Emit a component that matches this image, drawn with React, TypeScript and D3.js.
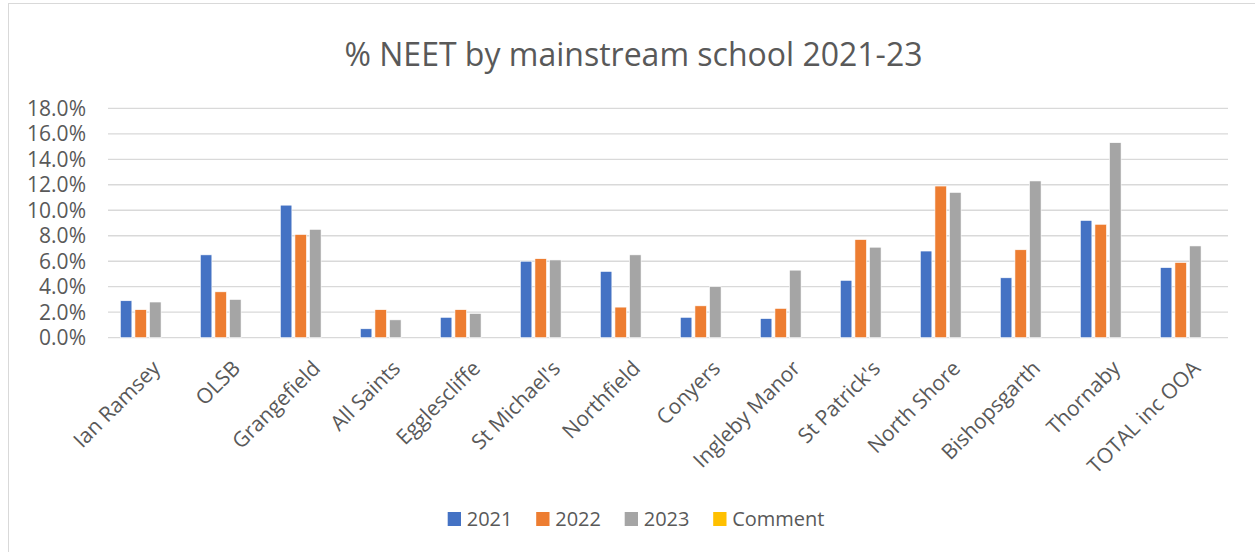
import React from "react";
import { scaleBand, scaleLinear } from "d3";

const schools = [
  "Ian Ramsey",
  "OLSB",
  "Grangefield",
  "All Saints",
  "Egglescliffe",
  "St Michael's",
  "Northfield",
  "Conyers",
  "Ingleby Manor",
  "St Patrick's",
  "North Shore",
  "Bishopsgarth",
  "Thornaby",
  "TOTAL inc OOA",
];

const series = ["2021", "2022", "2023", "Comment"];
const colors = ["#4472C4", "#ED7D31", "#A5A5A5", "#FFC000"];

const neet2021 = [2.9, 6.5, 10.4, 0.7, 1.6, 6.0, 5.2, 1.6, 1.5, 4.5, 6.8, 4.7, 9.2, 5.5];
const neet2022 = [2.2, 3.6, 8.1, 2.2, 2.2, 6.2, 2.4, 2.5, 2.3, 7.7, 11.9, 6.9, 8.9, 5.9];
const neet2023 = [2.8, 3.0, 8.5, 1.4, 1.9, 6.1, 6.5, 4.0, 5.3, 7.1, 11.4, 12.3, 15.3, 7.2];
const comment = [0, 0, 0, 0, 0, 0, 0, 0, 0, 0, 0, 0, 0, 0];

const values = [neet2021, neet2022, neet2023, comment];
const yTicks = [0, 2, 4, 6, 8, 10, 12, 14, 16, 18];

const W = 1255;
const H = 552;
const plot = { left: 108, right: 1228, top: 108.3, bottom: 337.7 };
const textColor = "#595959";
const font = "'Open Sans', sans-serif";

export default function App() {
  const x = scaleBand<string>()
    .domain(schools)
    .range([plot.left, plot.right])
    .padding(0);
  const inner = scaleBand<string>()
    .domain(series)
    .range([0, x.bandwidth()])
    .paddingInner(0.21)
    .paddingOuter(0.845);
  const y = scaleLinear().domain([0, 18]).range([plot.bottom, plot.top]);

  const legendX = 447.7;
  const legendStep = 88.5;
  const legendY = 519;

  return (
    <svg
      width={W}
      height={H}
      style={{ position: "absolute", left: 0, top: 0, display: "block" }}
      fontFamily={font}
    >
      <rect x={0} y={0} width={W} height={H} fill="#fff" />
      <rect
        x={8.5}
        y={3.5}
        width={W}
        height={H}
        fill="none"
        stroke="#d9d9d9"
        strokeWidth={1}
      />

      <text
        x={633.5}
        y={66}
        textAnchor="middle"
        fontSize={32}
        fill={textColor}
      >
        % NEET by mainstream school 2021-23
      </text>

      {yTicks.map((t) => (
        <g key={t}>
          <line
            x1={plot.left}
            x2={plot.right}
            y1={y(t)}
            y2={y(t)}
            stroke="#d9d9d9"
            strokeWidth={1.3}
          />
          <text
            x={86}
            y={y(t)}
            dy="0.35em"
            textAnchor="end"
            fontSize={21}
            fill={textColor}
          >
            {t.toFixed(1)}%
          </text>
        </g>
      ))}

      {schools.map((s, i) => (
        <g key={s} transform={`translate(${x(s)},0)`}>
          {series.map((ser, j) => {
            const v = values[j][i];
            if (!v) return null;
            return (
              <rect
                key={ser}
                x={inner(ser)}
                y={y(v)}
                width={inner.bandwidth()}
                height={y(0) - y(v)}
                fill={colors[j]}
                stroke="#fff"
                strokeWidth={0.6}
              />
            );
          })}
        </g>
      ))}

      {schools.map((s) => {
        const cx = (x(s) ?? 0) + x.bandwidth() / 2;
        return (
          <text
            key={s}
            transform={`translate(${cx + 3},${359}) rotate(-45)`}
            dy="0.71em"
            textAnchor="end"
            fontSize={21}
            fill={textColor}
          >
            {s}
          </text>
        );
      })}

      {series.map((ser, i) => (
        <g key={ser} transform={`translate(${legendX + i * legendStep},${legendY})`}>
          <rect x={0} y={-7} width={13.3} height={14} fill={colors[i]} />
          <text x={19} y={0} dy="0.35em" fontSize={20} fill={textColor}>
            {ser}
          </text>
        </g>
      ))}
    </svg>
  );
}
